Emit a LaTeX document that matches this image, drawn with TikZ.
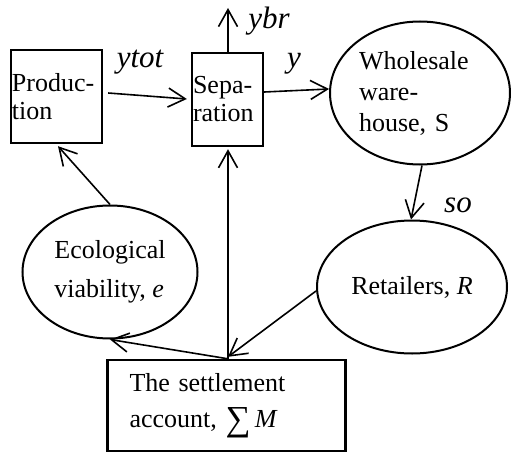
\documentclass[tikz,border=0pt]{standalone}
\usepackage{fontspec}
\setmainfont{Liberation Serif}
\usetikzlibrary{arrows.meta,shapes.geometric}
\begin{document}
\begin{tikzpicture}[x=1pt,y=-1pt,
  font=\fontsize{26}{31}\selectfont,
  box/.style={draw,line width=2.4pt,rectangle,inner sep=1pt,align=left},
  oval/.style={draw,line width=2pt,ellipse,inner sep=0pt,align=left},
  conn/.style={line width=1.6pt,-{Straight Barb[length=17pt,width=19pt,line width=1.6pt]}},
  lbl/.style={font=\fontsize{31}{34}\selectfont\itshape,inner sep=0pt}]
\useasboundingbox (0,0) rectangle (511,452);
\node[box,minimum width=91pt,minimum height=93pt,text width=89pt,font=\fontsize{26}{28}\selectfont] (prod) at (56.5,96.5) {Produc-\\tion};
\node[box,minimum width=71pt,minimum height=93pt,text width=69pt,font=\fontsize{26}{28}\selectfont] (sep) at (227.5,99.5) {Sepa-\\ration};
\node[oval,minimum width=180pt,minimum height=143pt,text width=122pt] (whole) at (420,93) {Wholesale\\ware-\\house, S};
\node[oval,minimum width=190pt,minimum height=133pt] (ret) at (412,287) {Retailers, \textit{R}};
\node[oval,minimum width=175pt,minimum height=133pt,font=\fontsize{26}{39}\selectfont] (eco) at (110,272) {Ecological\\viability, \textit{e}};
\node[box,minimum width=238pt,minimum height=91pt,text width=194pt,font=\fontsize{26}{36}\selectfont] (sett) at (226.5,405.5) {The settlement\\account, \raisebox{-2.5pt}{\scalebox{1.35}{∑}}\,\textit{M}};
\coordinate (ybrc) at (228,8);
\node[lbl] (lytot) at (140,62) {ytot};
\node[lbl] (ly) at (294,64) {y};
\node[lbl] (lybr) at (269,21) {ybr};
\node[lbl] (lso) at (458,205) {so};
\draw[conn] ([xshift=5pt,yshift=3.5pt]prod.east) -- ([xshift=-4pt,yshift=0.5pt]sep.west);
\draw[conn] ([xshift=0.5pt]sep.north) -- (ybrc);
\draw[conn] ([yshift=7.5pt]sep.east) -- ([yshift=4pt]whole.west);
\draw[conn] ([xshift=2pt]whole.south) -- ([xshift=-1pt]ret.north);
\draw[conn] ([yshift=-4pt]ret.west) -- ([xshift=1.5pt,yshift=2pt]sett.north);
\draw[conn] ([xshift=1.5pt]sett.north) -- ([xshift=0.5pt,yshift=-2pt]sep.south);
\draw[conn] ([xshift=1.5pt]sett.north) -- (eco.south);
\draw[conn] (eco.north) -- ([xshift=1.5pt,yshift=-2pt]prod.south);
\end{tikzpicture}
\end{document}
